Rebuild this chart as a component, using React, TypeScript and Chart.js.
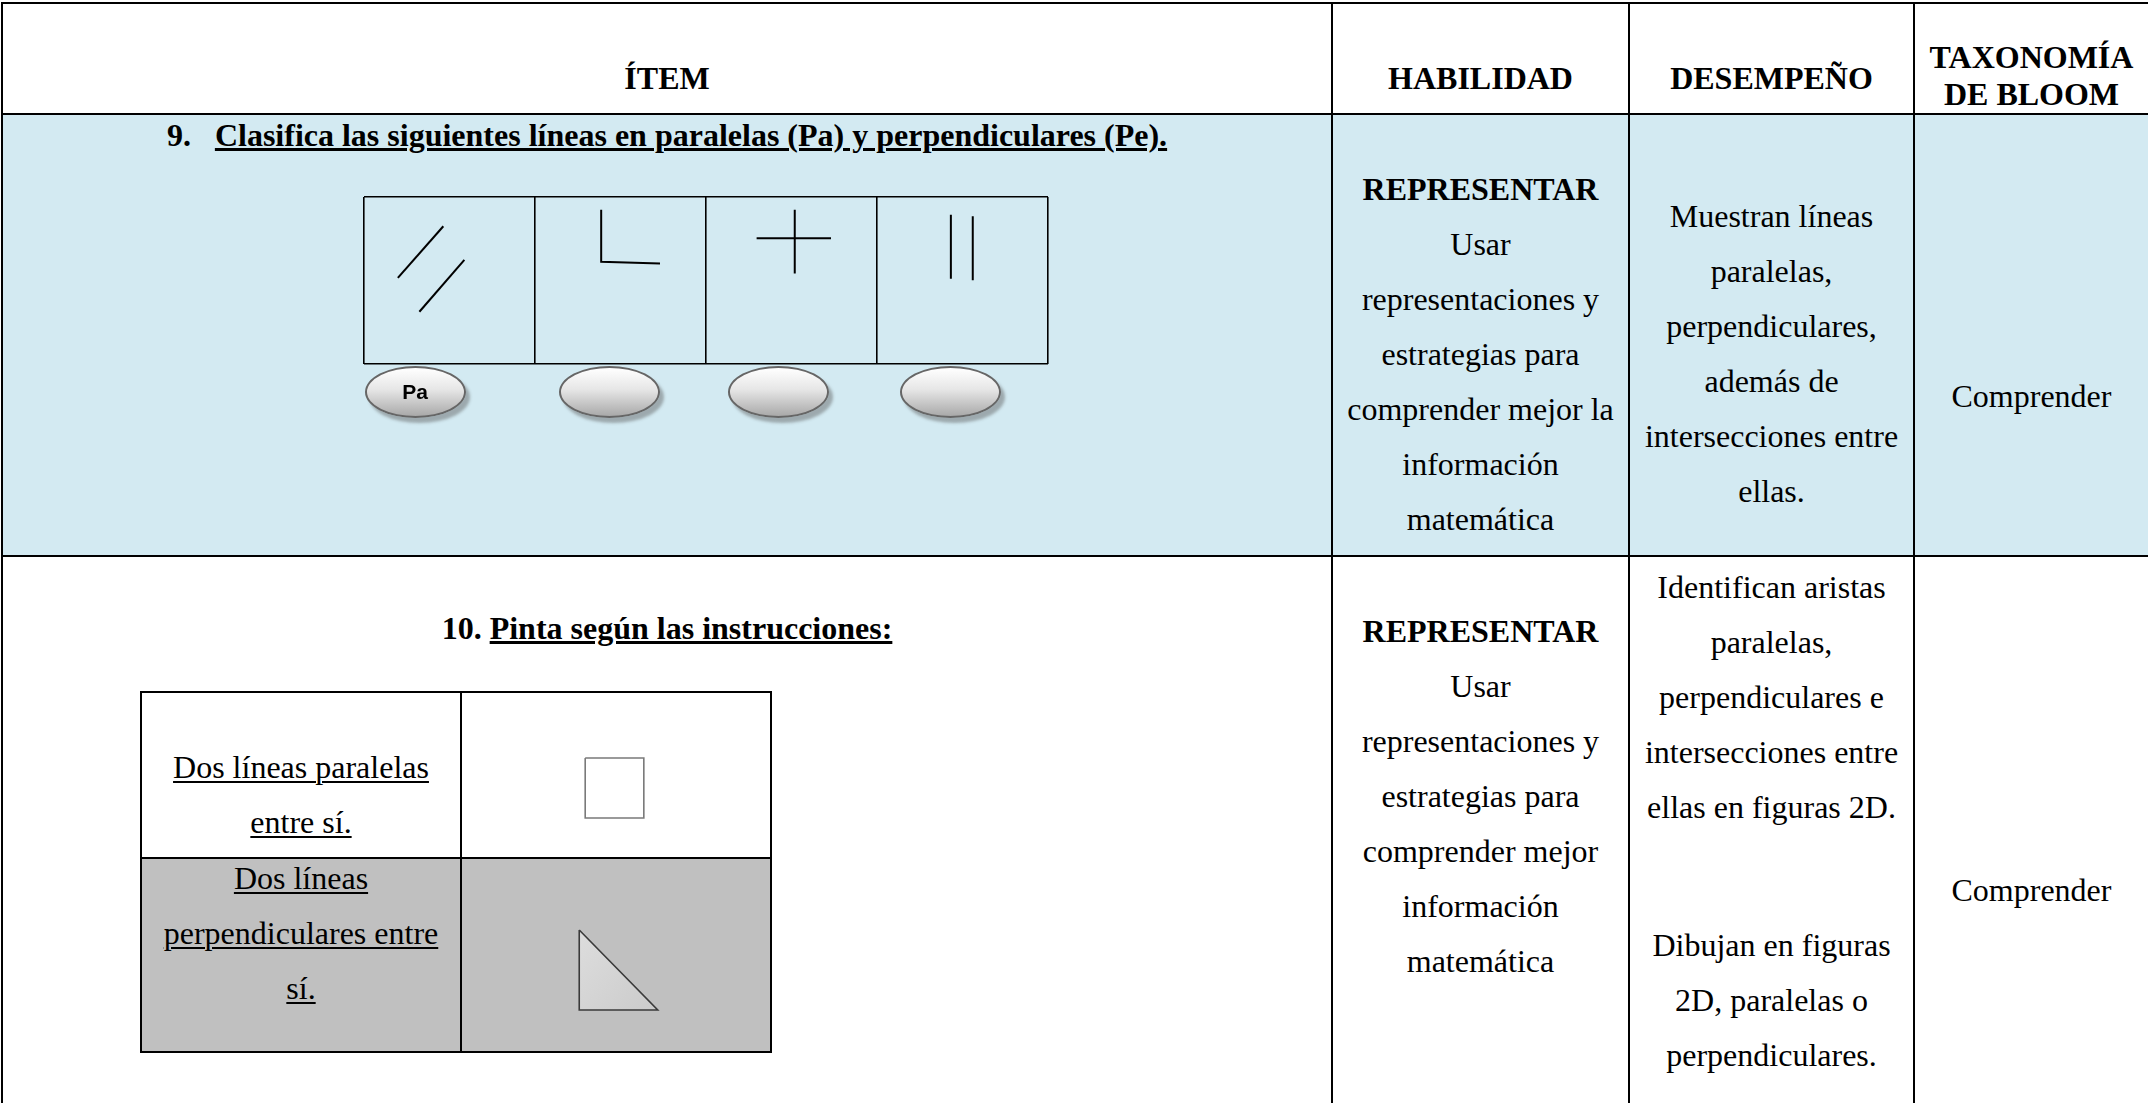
import React, { useEffect, useRef } from "react";
import { Chart, registerables } from "chart.js";

Chart.register(...registerables);

// ---------- Text content ----------
const headerLabels = ["ÍTEM", "HABILIDAD", "DESEMPEÑO"];
const bloomHeader = ["TAXONOMÍA", "DE BLOOM"];

const item9Number = "9.";
const item9Title = "Clasifica las siguientes líneas en paralelas (Pa) y perpendiculares (Pe).";
const item10Number = "10.";
const item10Title = "Pinta según las instrucciones:";

const skillTitle = "REPRESENTAR";
const skillLines9 = ["Usar", "representaciones y", "estrategias para", "comprender mejor la", "información", "matemática"];
const skillLines10 = ["Usar", "representaciones y", "estrategias para", "comprender mejor", "información", "matemática"];

const performance9 = ["Muestran líneas", "paralelas,", "perpendiculares,", "además de", "intersecciones entre", "ellas."];
const performance10a = ["Identifican aristas", "paralelas,", "perpendiculares e", "intersecciones entre", "ellas en figuras 2D."];
const performance10b = ["Dibujan en figuras", "2D, paralelas o", "perpendiculares."];

const bloomLevel = "Comprender";

const answerLabels = ["Pa", "", "", ""];
const instructionRow1 = ["Dos líneas paralelas", "entre sí."];
const instructionRow2 = ["Dos líneas", "perpendiculares entre", "sí."];

// ---------- Figure data (item 9: x in cell units 0..4, y 0..1 from top) ----------
const diagonalA = [{ x: 0.198, y: 0.484 }, { x: 0.464, y: 0.175 }];
const diagonalB = [{ x: 0.324, y: 0.687 }, { x: 0.587, y: 0.376 }];
const cornerL = [{ x: 1.387, y: 0.076 }, { x: 1.387, y: 0.388 }, { x: 1.731, y: 0.398 }];
const crossVertical = [{ x: 2.519, y: 0.076 }, { x: 2.519, y: 0.458 }];
const crossHorizontal = [{ x: 2.296, y: 0.247 }, { x: 2.731, y: 0.247 }];
const verticalA = [{ x: 3.432, y: 0.106 }, { x: 3.432, y: 0.49 }];
const verticalB = [{ x: 3.56, y: 0.116 }, { x: 3.56, y: 0.498 }];
const item9Segments = [diagonalA, diagonalB, cornerL, crossVertical, crossHorizontal, verticalA, verticalB];

// ---------- Figure data (item 10: local units, cell 310 x 360, y from top) ----------
const squareShape = [
  { x: 124, y: 66 }, { x: 183, y: 66 }, { x: 183, y: 126 }, { x: 124, y: 126 }, { x: 124, y: 66 },
];
const triangleShape = [
  { x: 118, y: 238 }, { x: 118, y: 318 }, { x: 197, y: 318 }, { x: 118, y: 238 },
];

const FONT = '"Liberation Serif", "Times New Roman", serif';
const BLUE = "#D3EAF2";
const GRAY = "#C0C0C0";

function ChartCanvas({ left, top, width, height, makeConfig }: any) {
  const ref = useRef<HTMLCanvasElement | null>(null);
  useEffect(() => {
    if (!ref.current) return;
    const chart = new Chart(ref.current, makeConfig());
    return () => chart.destroy();
  }, []);
  return (
    <canvas
      ref={ref}
      width={width}
      height={height}
      style={{ position: "absolute", left, top, width, height }}
    />
  );
}

const item9Config = () => ({
  type: "scatter",
  data: {
    datasets: item9Segments.map((seg) => ({
      data: seg,
      showLine: true,
      borderColor: "#000",
      borderWidth: 2,
      pointRadius: 0,
      fill: false,
      tension: 0,
    })),
  },
  options: {
    animation: false,
    responsive: false,
    events: [],
    layout: { padding: 10 },
    plugins: { legend: { display: false }, tooltip: { enabled: false } },
    scales: {
      x: {
        type: "linear",
        min: 0,
        max: 4,
        ticks: { display: false, stepSize: 1 },
        grid: { color: "#000", lineWidth: 1.6, drawTicks: false },
        border: { display: false },
      },
      y: {
        type: "linear",
        min: 0,
        max: 1,
        reverse: true,
        ticks: { display: false, stepSize: 1 },
        grid: { color: "#000", lineWidth: 1.6, drawTicks: false },
        border: { display: false },
      },
    },
  },
});

const item10Config = () => ({
  type: "scatter",
  data: {
    datasets: [
      {
        data: squareShape,
        showLine: true,
        borderColor: "#7a7a7a",
        borderWidth: 1.6,
        backgroundColor: "#ffffff",
        pointRadius: 0,
        fill: "shape",
        tension: 0,
      },
      {
        data: triangleShape,
        showLine: true,
        borderColor: "#3a3a3a",
        borderWidth: 1.6,
        backgroundColor: (ctx: any) => {
          const area = ctx.chart.chartArea;
          if (!area) return "#d4d4d4";
          const g = ctx.chart.ctx.createLinearGradient(110, 240, 200, 320);
          g.addColorStop(0, "#dedede");
          g.addColorStop(1, "#cacaca");
          return g;
        },
        pointRadius: 0,
        fill: "shape",
        tension: 0,
      },
    ],
  },
  options: {
    animation: false,
    responsive: false,
    events: [],
    layout: { padding: 0 },
    plugins: { legend: { display: false }, tooltip: { enabled: false } },
    scales: {
      x: { type: "linear", min: 0, max: 310, display: false },
      y: { type: "linear", min: 0, max: 360, reverse: true, display: false },
    },
  },
});

const Bar = ({ l, t, w, h }: any) => (
  <div style={{ position: "absolute", left: l, top: t, width: w, height: h, background: "#000" }} />
);

const TextBlock = ({ left, top, width, lineHeight = 55, bold = false, lines, underline = false, size = 32 }: any) => (
  <div
    style={{
      position: "absolute",
      left,
      top,
      width,
      textAlign: "center",
      fontSize: size,
      lineHeight: `${lineHeight}px`,
      fontWeight: bold ? "bold" : "normal",
      whiteSpace: "nowrap",
    }}
  >
    {lines.map((ln: any, i: number) => (
      <div key={i}>
        <span
          style={
            underline
              ? { textDecoration: "underline", textDecorationThickness: "2px", textUnderlineOffset: "3px" }
              : {}
          }
        >
          {ln}
        </span>
      </div>
    ))}
  </div>
);

const ellipseCenters = [415, 609, 778, 950];

export default function App() {
  const ulBold = { textDecoration: "underline", textDecorationThickness: "3px", textUnderlineOffset: "2px" } as any;
  return (
    <div
      style={{
        position: "absolute",
        left: 0,
        top: 0,
        width: 2148,
        height: 1103,
        overflow: "hidden",
        background: "#fff",
        fontFamily: FONT,
        color: "#000",
      }}
    >
      {/* row 1 background */}
      <div style={{ position: "absolute", left: 3, top: 115, width: 2145, height: 440, background: BLUE }} />

      {/* header */}
      <TextBlock left={3} top={59.5} width={1328} lineHeight={37} bold lines={[headerLabels[0]]} />
      <TextBlock left={1333} top={59.5} width={295} lineHeight={37} bold lines={[headerLabels[1]]} />
      <TextBlock left={1630} top={59.5} width={283} lineHeight={37} bold lines={[headerLabels[2]]} />
      <TextBlock left={1915} top={39} width={233} lineHeight={37} bold lines={bloomHeader} />

      {/* item 9 title */}
      <div
        style={{
          position: "absolute",
          left: 3,
          top: 117,
          width: 1328,
          textAlign: "center",
          fontSize: 32,
          lineHeight: "37px",
          fontWeight: "bold",
          whiteSpace: "nowrap",
        }}
      >
        <span>{item9Number}</span>
        <span style={{ display: "inline-block", width: 24 }} />
        <span style={ulBold}>{item9Title}</span>
      </div>

      {/* item 9 figure */}
      <ChartCanvas left={354} top={187} width={704} height={187} makeConfig={item9Config} />
      {ellipseCenters.map((cx, i) => (
        <div
          key={i}
          style={{
            position: "absolute",
            left: cx - 50.5,
            top: 366,
            width: 101,
            height: 52,
            boxSizing: "border-box",
            borderRadius: "50%",
            border: "2px solid #666",
            background: "linear-gradient(#ffffff 0%, #e6e6e6 45%, #a9a9a9 100%)",
            boxShadow: "4px 5px 3px rgba(90,90,90,0.45)",
            display: "flex",
            alignItems: "center",
            justifyContent: "center",
            fontFamily: '"Liberation Sans", Arial, sans-serif',
            fontWeight: "bold",
            fontSize: 21,
          }}
        >
          {answerLabels[i]}
        </div>
      ))}

      {/* row 1 skill / performance / bloom */}
      <TextBlock left={1333} top={161.5} width={295} bold lines={[skillTitle]} />
      <TextBlock left={1333} top={216.5} width={295} lines={skillLines9} />
      <TextBlock left={1630} top={189} width={283} lines={performance9} />
      <TextBlock left={1915} top={368.5} width={233} lines={[bloomLevel]} />

      {/* item 10 title */}
      <div
        style={{
          position: "absolute",
          left: 3,
          top: 609.5,
          width: 1328,
          textAlign: "center",
          fontSize: 32,
          lineHeight: "37px",
          fontWeight: "bold",
          whiteSpace: "nowrap",
        }}
      >
        <span>{item10Number} </span>
        <span style={ulBold}>{item10Title}</span>
      </div>

      {/* item 10 inner table */}
      <div style={{ position: "absolute", left: 142, top: 859, width: 628, height: 192, background: GRAY }} />
      <TextBlock left={142} top={739.5} width={318} lines={instructionRow1} underline />
      <TextBlock left={142} top={851} width={318} lines={instructionRow2} underline />
      <ChartCanvas left={462} top={692} width={308} height={360} makeConfig={item10Config} />
      <Bar l={140} t={691} w={632} h={2} />
      <Bar l={140} t={857} w={632} h={2} />
      <Bar l={140} t={1051} w={632} h={2} />
      <Bar l={140} t={691} w={2} h={362} />
      <Bar l={460} t={691} w={2} h={362} />
      <Bar l={770} t={691} w={2} h={362} />

      {/* row 2 skill / performance / bloom */}
      <TextBlock left={1333} top={604} width={295} bold lines={[skillTitle]} />
      <TextBlock left={1333} top={658.5} width={295} lines={skillLines10} />
      <TextBlock left={1630} top={560} width={283} lines={performance10a} />
      <TextBlock left={1630} top={917.5} width={283} lines={performance10b} />
      <TextBlock left={1915} top={863} width={233} lines={[bloomLevel]} />

      {/* outer table grid */}
      <Bar l={1} t={2} w={2147} h={2} />
      <Bar l={1} t={2} w={2} h={1101} />
      <Bar l={1} t={113} w={2147} h={2} />
      <Bar l={1} t={555} w={2147} h={2} />
      <Bar l={1331} t={2} w={2} h={1101} />
      <Bar l={1628} t={2} w={2} h={1101} />
      <Bar l={1913} t={2} w={2} h={1101} />
    </div>
  );
}
